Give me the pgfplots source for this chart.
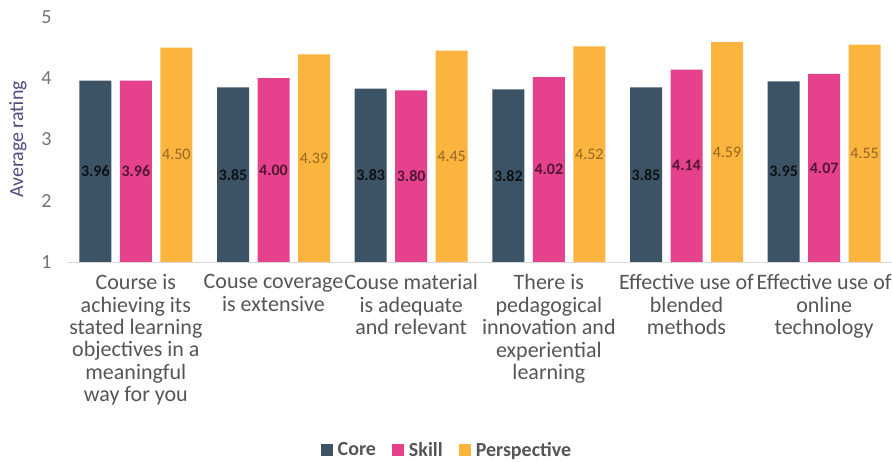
\documentclass[border=0pt]{standalone}
\usepackage{pgfplots}
\usepackage{pgfplotstable}
\pgfplotsset{compat=1.18}
\usepackage{fontspec}
\setmainfont{Carlito}
\usetikzlibrary{calc}
\definecolor{core}{HTML}{3C5366}
\definecolor{skill}{HTML}{E6418D}
\definecolor{persp}{HTML}{FBB43E}
\definecolor{txt}{HTML}{555555}
\pgfplotstableread{
x core skill persp
0 3.96 3.96 4.50
1 3.85 4.00 4.39
2 3.83 3.80 4.45
3 3.82 4.02 4.52
4 3.85 4.14 4.59
5 3.95 4.07 4.55
}\ratings
\begin{document}
\begin{tikzpicture}
\begin{axis}[
  scale only axis, width=826pt, height=245pt,
  ybar=8.5pt, bar width=32pt,
  xmin=-0.5, xmax=5.5, ymin=1, ymax=5,
  ytick={1,2,3,4,5},
  xtick={0,1,2,3,4,5},
  xticklabels={
    {Course is\\achieving its\\stated learning\\objectives in a\\meaningful\\way for you},
    {Couse coverage\\is extensive},
    {Couse material\\is adequate\\and relevant},
    {There is\\pedagogical\\innovation and\\experiential\\learning},
    {Effective use of\\blended\\methods},
    {Effective use of\\online\\technology}},
  xticklabel style={align=center, font=\fontsize{22}{22.4}\selectfont, text=txt, yshift=-9pt},
  yticklabel style={font=\fontsize{20}{22}\selectfont, text=black!55, xshift=-12pt},
  /pgf/number format/assume math mode=true,
  major tick length=0pt,
  axis x line*=bottom, axis y line*=left,
  x axis line style={draw=black!15, -},
  y axis line style={draw=none},
  ylabel={Average rating},
  ylabel style={at={(axis description cs:-0.0593,0.5)}, anchor=center, font=\fontsize{20}{22}\selectfont, text=black!50!blue!40!gray},
  legend style={at={(0.46,-0.767)}, anchor=center, legend columns=3, draw=none, fill=none,
    font=\bfseries\fontsize{20}{22}\selectfont, text=txt,
    /tikz/every odd column/.append style={column sep=3pt},
    /tikz/every even column/.append style={column sep=14pt}},
  legend image code/.code={\fill[#1] (0pt,-6pt) rectangle (12pt,6pt);},
  label/.style={draw=none, fill=none, forget plot, bar shift=#1, point meta=explicit,
    nodes near coords={\pgfmathprintnumber[fixed, fixed zerofill, precision=2]{\pgfplotspointmeta}},
    every node near coord/.append style={anchor=center, font=\fontsize{16}{18}\selectfont}},
]
\addplot[fill=core, draw=none] table[x=x, y=core] {\ratings};
\addplot[fill=skill, draw=none] table[x=x, y=skill] {\ratings};
\addplot[fill=persp, draw=none] table[x=x, y=persp] {\ratings};
\legend{Core, Skill, Perspective}
% value labels at the middle of each bar
\addplot[label=-40.5pt, every node near coord/.append style={text=black!80!core, font=\bfseries\fontsize{16}{18}\selectfont}]
  table[x=x, y expr={(\thisrow{core}+1)/2}, meta=core] {\ratings};
\addplot[label=0pt, every node near coord/.append style={text=black!65!skill, font=\bfseries\fontsize{16}{18}\selectfont}]
  table[x=x, y expr={(\thisrow{skill}+1)/2}, meta=skill] {\ratings};
\addplot[label=40.5pt, every node near coord/.append style={text=black!42!persp}]
  table[x=x, y expr={(\thisrow{persp}+1)/2}, meta=persp] {\ratings};
\coordinate (o) at (rel axis cs:0,0);
\end{axis}
\pgfresetboundingbox
\path ($(o)+(-67pt,-200pt)$) rectangle ($(o)+(825pt,262pt)$);
\end{tikzpicture}
\end{document}
